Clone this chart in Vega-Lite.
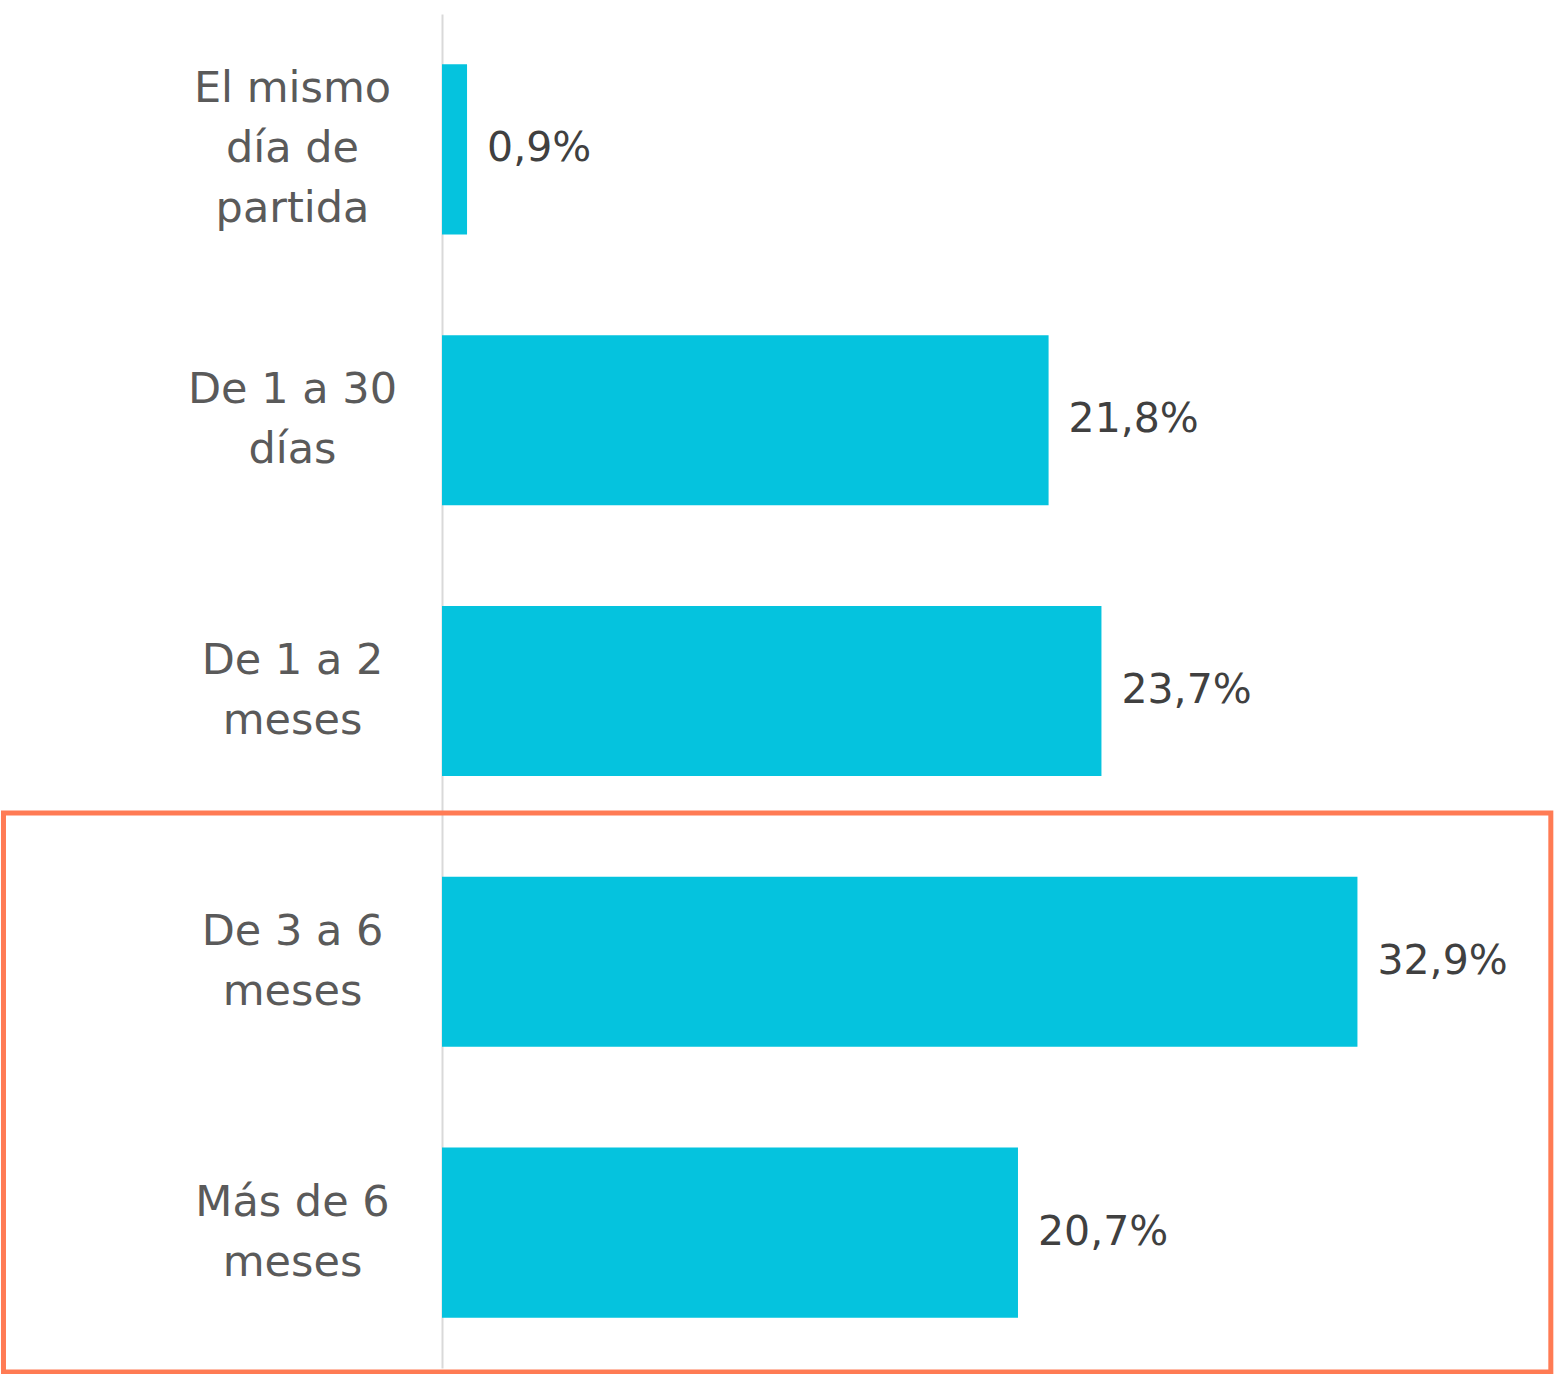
{
  "$schema": "https://vega.github.io/schema/vega-lite/v6.json",
  "width": 1113,
  "height": 1354,
  "autosize": {"type": "none"},
  "padding": {"left": 442, "top": 14, "right": 0, "bottom": 6},
  "background": "white",
  "config": {
    "view": {"stroke": null},
    "font": "DejaVu Sans",
    "locale": {"number": {"decimal": ",", "thousands": ".", "grouping": [3], "currency": ["", " €"]}}
  },
  "data": {
    "values": [
      {"plazo": "El mismo día de partida", "share": 0.009},
      {"plazo": "De 1 a 30 días", "share": 0.218},
      {"plazo": "De 1 a 2 meses", "share": 0.237},
      {"plazo": "De 3 a 6 meses", "share": 0.329},
      {"plazo": "Más de 6 meses", "share": 0.207}
    ]
  },
  "encoding": {
    "y": {
      "field": "plazo",
      "type": "nominal",
      "sort": null,
      "scale": {"paddingInner": 0.372, "paddingOuter": 0.186},
      "axis": {
        "title": null,
        "ticks": false,
        "tickSize": 0,
        "grid": false,
        "labelPadding": 150,
        "labelAlign": "center",
        "labelBaseline": "middle",
        "labelFontSize": 43,
        "labelColor": "#5a5a5a",
        "labelLineHeight": 60,
        "labelLimit": 0,
        "labelOffset": {"condition": {"test": "datum.value == 'El mismo día de partida'", "value": -60}, "value": -30},
        "labelExpr": "datum.label == 'El mismo día de partida' ? ['El mismo', 'día de', 'partida'] : split(replace(datum.label, regexp(' (\\\\S+)$'), '|$1'), '|')",
        "domainColor": "#D9D9D9",
        "domainWidth": 2
      }
    }
  },
  "layer": [
    {
      "mark": {"type": "bar", "color": "#05C3DE"},
      "encoding": {
        "x": {"field": "share", "type": "quantitative", "scale": {"domain": [0, 0.399]}, "axis": null}
      }
    },
    {
      "mark": {"type": "text", "align": "left", "baseline": "middle", "dx": 20, "fontSize": 41, "color": "#404040"},
      "encoding": {
        "x": {"field": "share", "type": "quantitative"},
        "text": {"field": "share", "type": "quantitative", "format": ".1%"}
      }
    },
    {
      "data": {"values": [{"marco": "destacado"}]},
      "mark": {"type": "rect", "fill": "transparent", "stroke": "#FF7B54", "strokeWidth": 5},
      "encoding": {
        "x": {"datum": -0.1576},
        "x2": {"datum": 0.3985},
        "y": {"datum": "De 3 a 6 meses", "bandPosition": -0.375},
        "y2": {"datum": "Más de 6 meses", "bandPosition": 1.32}
      }
    }
  ]
}
